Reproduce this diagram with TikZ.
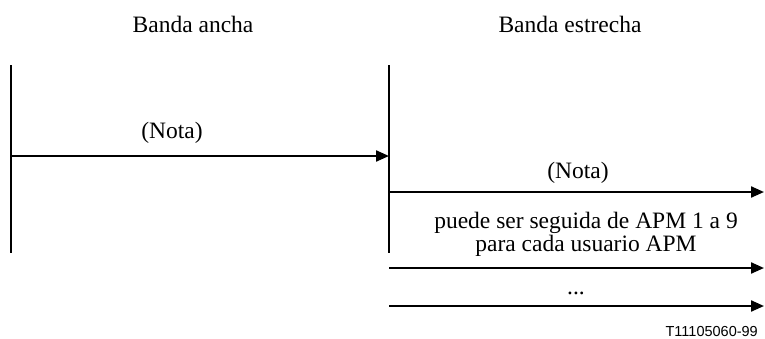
\documentclass[tikz,border=0pt]{standalone}
\usepackage{fontspec}
\setmainfont{Liberation Serif}
\newfontfamily\labelsans{Liberation Sans}
\usetikzlibrary{arrows.meta}
\begin{document}
\begin{tikzpicture}[x=1pt,y=-1pt,
  lifeline/.style={line width=2.2pt},
  msg/.style={line width=2.2pt,-{Triangle[length=13pt,width=11pt]}},
  txt/.style={inner sep=0pt,anchor=base,font=\fontsize{23.5}{23}\selectfont},
  figid/.style={inner sep=0pt,anchor=base east,font=\labelsans\fontsize{14.5}{16}\selectfont}]
\useasboundingbox (0,0) rectangle (765,338);
% lifelines
\coordinate (at) at (11,65);
\coordinate (ab) at (11,253);
\coordinate (bt) at (389,65);
\coordinate (bb) at (389,253);
\draw[lifeline] (at) -- (ab);
\draw[lifeline] (bt) -- (bb);
% headings
\node[txt] (hA) at (193,32) {Banda ancha};
\node[txt] (hB) at (570,32) {Banda estrecha};
% message 1
\coordinate (m1s) at (11,156);
\coordinate (m1e) at (389,156);
\draw[msg] (m1s) -- (m1e);
\node[txt] (n1) at (172,138) {(Nota)};
% message 2
\coordinate (m2s) at (389,192);
\coordinate (m2e) at (764,192);
\draw[msg] (m2s) -- (m2e);
\node[txt] (n2) at (578,178) {(Nota)};
% text
\node[txt,align=center,anchor=north] (t1) at (586,212) {puede ser seguida de APM 1 a 9\\para cada usuario APM};
% message 3
\coordinate (m3s) at (389,268);
\coordinate (m3e) at (764,268);
\draw[msg] (m3s) -- (m3e);
\node[txt] (dots) at (576,294) {...};
% message 4
\coordinate (m4s) at (389,306);
\coordinate (m4e) at (764,306);
\draw[msg] (m4s) -- (m4e);
\node[figid] (fid) at (758,336) {T11105060-99};
\end{tikzpicture}
\end{document}
